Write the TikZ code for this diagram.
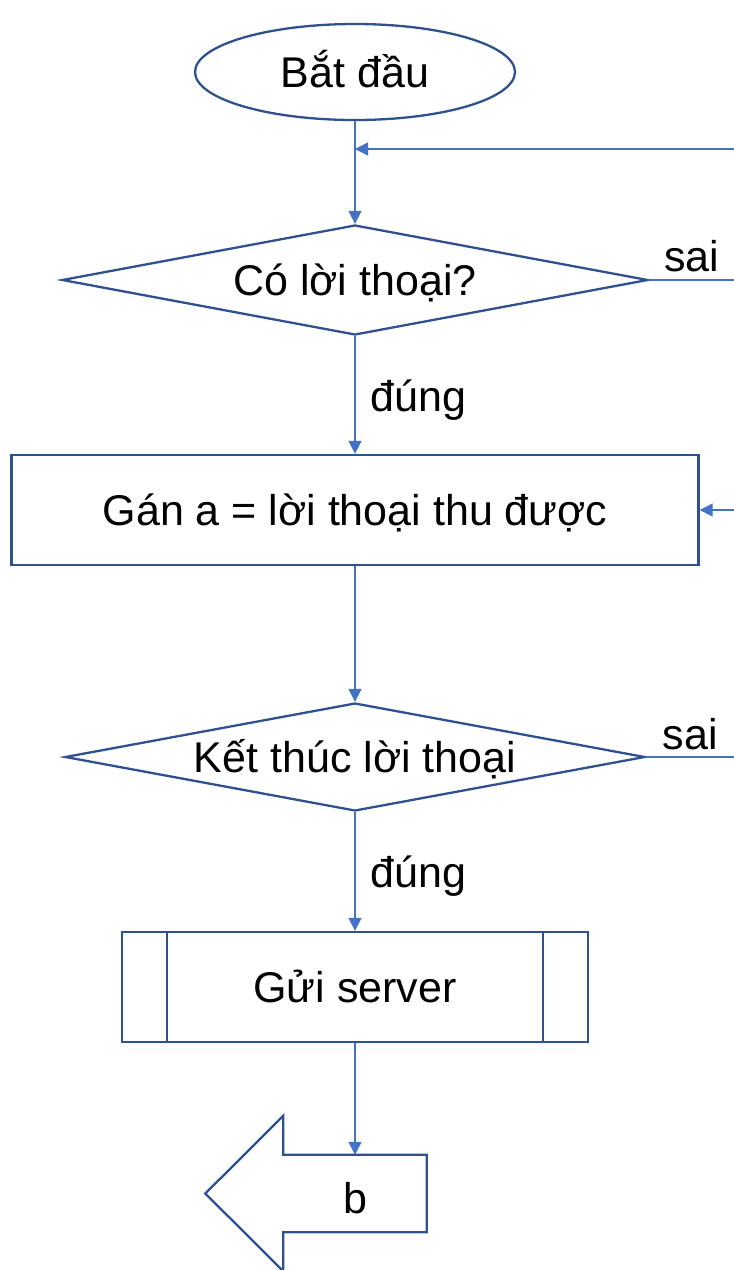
\documentclass[tikz,border=0pt]{standalone}
\usepackage{fontspec}
\setmainfont{Liberation Sans}
\usetikzlibrary{shapes.geometric,arrows.meta,calc}
\definecolor{shapeblue}{HTML}{2F528F}
\definecolor{linkblue}{HTML}{4472C4}
\begin{document}
\begin{tikzpicture}[x=1pt,y=-1pt,
  every node/.style={font=\fontsize{43}{50}\selectfont},
  outline/.style={draw=shapeblue,line width=2.3pt},
  boxtext/.style={inner sep=0pt,text height=30pt,text depth=0pt},
  terminal/.style={outline,boxtext,ellipse,minimum width=320pt,minimum height=96pt},
  decision/.style={outline,boxtext,diamond,aspect=5.3,minimum width=586pt,minimum height=110pt},
  process/.style={outline,boxtext,rectangle,minimum width=687pt,minimum height=110pt},
  subproc/.style={outline,boxtext,rectangle,minimum width=466pt,minimum height=110pt},
  link/.style={draw=linkblue,line width=1.2pt,-{Triangle[length=13pt,width=13pt]}},
  plainlink/.style={draw=linkblue,line width=1.2pt},
  branch/.style={inner sep=0pt,xshift=15pt,yshift=-5pt}
]
\useasboundingbox (0,0) rectangle (734,1270);

% flow nodes
\node[terminal] (start) at (355,72) {Bắt đầu};
\node[decision] (q1) at (355,280) {Có lời thoại?};
\node[process] (assign) at (355,510) {Gán a = lời thoại thu được};
\node[decision,minimum width=580pt,minimum height=108pt] (q2) at (355,757) {Kết thúc lời thoại};
\node[subproc] (send) at (355,987) {Gửi server};
\draw[outline] ([xshift=46pt]send.north west) -- ([xshift=46pt]send.south west);
\draw[outline] ([xshift=-46pt]send.north east) -- ([xshift=-46pt]send.south east);

% off-page connector "b" (left-pointing block arrow)
\node[inner sep=0pt,minimum width=143pt,minimum height=77pt,text height=40pt,text depth=0pt] (b) at (355,1193.5) {b};
\draw[outline] (b.north west) -- (b.north east) -- (b.south east) -- (b.south west)
  -- ++(0,39) -- ($(b.west)+(-78,0)$) -- ($(b.north west)+(0,-39)$) -- cycle;

% loop-back entries from the right
\coordinate (loopin1) at (734,149);
\coordinate (join1) at (355,149);
\coordinate (loopin2) at (734,510);
\coordinate (exit1) at (734,280);
\coordinate (exit2) at (734,757);

% connectors
\draw[link] (start.south) -- (q1.north);
\draw[link] (loopin1) -- (join1);
\draw[plainlink] (q1.east) -- (exit1) node[midway,above,inner sep=7pt] {sai};
\draw[link] (q1.south) -- (assign.north) node[midway,right,branch] {đúng};
\draw[link] (loopin2) -- (assign.east);
\draw[link] (assign.south) -- (q2.north);
\draw[plainlink] (q2.east) -- (exit2) node[midway,above,inner sep=6pt] {sai};
\draw[link] (q2.south) -- (send.north) node[midway,right,branch] {đúng};
\draw[link] (send.south) -- (b.north);
\end{tikzpicture}
\end{document}
